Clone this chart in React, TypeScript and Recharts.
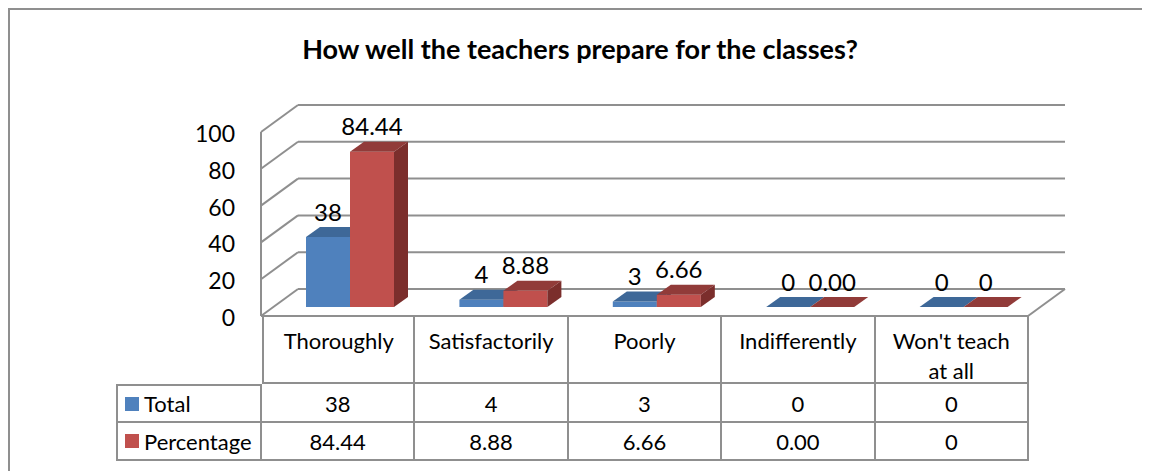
import React from 'react';
import { BarChart, Bar, XAxis, YAxis, CartesianGrid, LabelList } from 'recharts';

const categories = ['Thoroughly', 'Satisfactorily', 'Poorly', 'Indifferently', "Won't teach at all"];
const totalValues = [38, 4, 3, 0, 0];
const percentValues = [84.44, 8.88, 6.66, 0, 0];
const totalLabels = ['38', '4', '3', '0', '0'];
const percentLabels = ['84.44', '8.88', '6.66', '0.00', '0'];
const yTicks = [0, 20, 40, 60, 80, 100];

const FONT = 'Lato, "Open Sans", sans-serif';
const GRID = '#8f8f8f';

// bar depth (top/side faces)
const DX = 14;
const DY = 10;
// wall offsets relative to the plane the bars stand in
const FRONT = { x: -12, y: 9 };
const BACK = { x: 25, y: -18 };

const data = categories.map((c, i) => ({
  name: c,
  total: totalValues[i],
  percent: percentValues[i],
  totalLabel: totalLabels[i],
  percentLabel: percentLabels[i],
}));

const make3DBar = (front: string, top: string, side: string) => (p: any) => {
  const { x, y, width: w, height: h } = p;
  return (
    <g>
      <path d={`M${x},${y + h} L${x},${y} L${x + w},${y} L${x + w},${y + h} Z`} fill={front} />
      <path d={`M${x},${y} L${x + DX},${y - DY} L${x + w + DX},${y - DY} L${x + w},${y} Z`} fill={top} />
      <path d={`M${x + w},${y} L${x + w + DX},${y - DY} L${x + w + DX},${y + h - DY} L${x + w},${y + h} Z`} fill={side} />
    </g>
  );
};

const renderGridLine = (p: any) => {
  const { x1, x2, y1, index } = p;
  return (
    <g key={`g-${index}`} stroke={GRID} strokeWidth={2}>
      <line x1={x1 + BACK.x} y1={y1 + BACK.y} x2={x2 + BACK.x} y2={y1 + BACK.y} />
      <line x1={x1 + FRONT.x} y1={y1 + FRONT.y} x2={x1 + BACK.x} y2={y1 + BACK.y} />
      {index === 0 && (
        <>
          <line x1={x2 + FRONT.x} y1={y1 + FRONT.y} x2={x2 + BACK.x} y2={y1 + BACK.y} />
          <line x1={x1 + FRONT.x} y1={y1 + FRONT.y} x2={x2 + FRONT.x} y2={y1 + FRONT.y} />
        </>
      )}
    </g>
  );
};

const YTick = (p: any) => {
  const { x, y, payload } = p;
  return (
    <text x={x - 38} y={y + 10} textAnchor="end" dominantBaseline="central" fontSize={23} fontFamily={FONT} fill="#000">
      {payload.value}
    </text>
  );
};

const valueLabel = (p: any) => {
  const { x, y, width, value } = p;
  return (
    <text x={x + width / 2} y={y - 26} textAnchor="middle" dominantBaseline="central" fontSize={24} fontFamily={FONT} fill="#000">
      {value}
    </text>
  );
};

const colW = 153.4;
const border = `2px solid ${GRID}`;

function DataTable() {
  const cell: React.CSSProperties = {
    boxSizing: 'border-box',
    borderRight: border,
    borderBottom: border,
    display: 'flex',
    alignItems: 'center',
    justifyContent: 'center',
    fontSize: 22,
    color: '#000',
  };
  const rows = [
    { name: 'Total', color: '#4F81BD', labels: totalLabels },
    { name: 'Percentage', color: '#C0504D', labels: percentLabels },
  ];
  return (
    <div
      style={{
        position: 'absolute',
        left: 106,
        top: 305,
        display: 'grid',
        gridTemplateColumns: `146px repeat(5, ${colW}px)`,
        gridTemplateRows: '69px 39px 38px',
        fontFamily: FONT,
      }}
    >
      <div />
      {categories.map((c, i) => (
        <div
          key={c}
          style={{
            ...cell,
            borderTop: border,
            borderLeft: i === 0 ? border : undefined,
            alignItems: 'flex-start',
            textAlign: 'center',
            lineHeight: '30px',
            paddingTop: 9,
            paddingLeft: 10,
            paddingRight: 10,
          }}
        >
          {c}
        </div>
      ))}
      {rows.map((r, ri) => (
        <React.Fragment key={r.name}>
          <div
            style={{
              ...cell,
              borderLeft: border,
              borderTop: ri === 0 ? border : undefined,
              justifyContent: 'flex-start',
              paddingLeft: 7,
            }}
          >
            <span style={{ width: 14, height: 14, background: r.color, marginRight: 5 }} />
            {r.name}
          </div>
          {r.labels.map((v, i) => (
            <div key={i} style={{ ...cell, paddingTop: 1 }}>
              {v}
            </div>
          ))}
        </React.Fragment>
      ))}
    </div>
  );
}

export default function App() {
  return (
    <div
      style={{
        position: 'relative',
        width: 1142,
        height: 463,
        boxSizing: 'border-box',
        borderTop: border,
        borderLeft: border,
        overflow: 'hidden',
        background: '#fff',
        fontFamily: FONT,
      }}
    >
      <div
        style={{
          position: 'absolute',
          top: 23,
          left: 0,
          width: 1140,
          textAlign: 'center',
          fontSize: 27,
          fontWeight: 700,
          lineHeight: '32px',
          color: '#000',
        }}
      >
        How well the teachers prepare for the classes?
      </div>
      <div style={{ position: 'absolute', top: 0, left: 0 }}>
        <BarChart
          width={1140}
          height={340}
          data={data}
          margin={{ top: 113, right: 110, bottom: 43, left: 203 }}
          barSize={44}
          barGap={0}
        >
          <CartesianGrid horizontal={renderGridLine} vertical={false} />
          <XAxis dataKey="name" hide />
          <YAxis
            width={60}
            domain={[0, 100]}
            ticks={yTicks}
            tick={<YTick />}
            tickLine={false}
            tickSize={0}
            tickMargin={0}
            axisLine={{ stroke: GRID, strokeWidth: 2, transform: `translate(${FRONT.x} ${FRONT.y})` }}
          />
          <Bar dataKey="total" shape={make3DBar('#4F81BD', '#3E6898', '#2F5079')} isAnimationActive={false}>
            <LabelList dataKey="totalLabel" content={valueLabel} />
          </Bar>
          <Bar dataKey="percent" shape={make3DBar('#C0504D', '#913B39', '#7B2E2C')} isAnimationActive={false}>
            <LabelList dataKey="percentLabel" content={valueLabel} />
          </Bar>
        </BarChart>
      </div>
      <DataTable />
    </div>
  );
}
